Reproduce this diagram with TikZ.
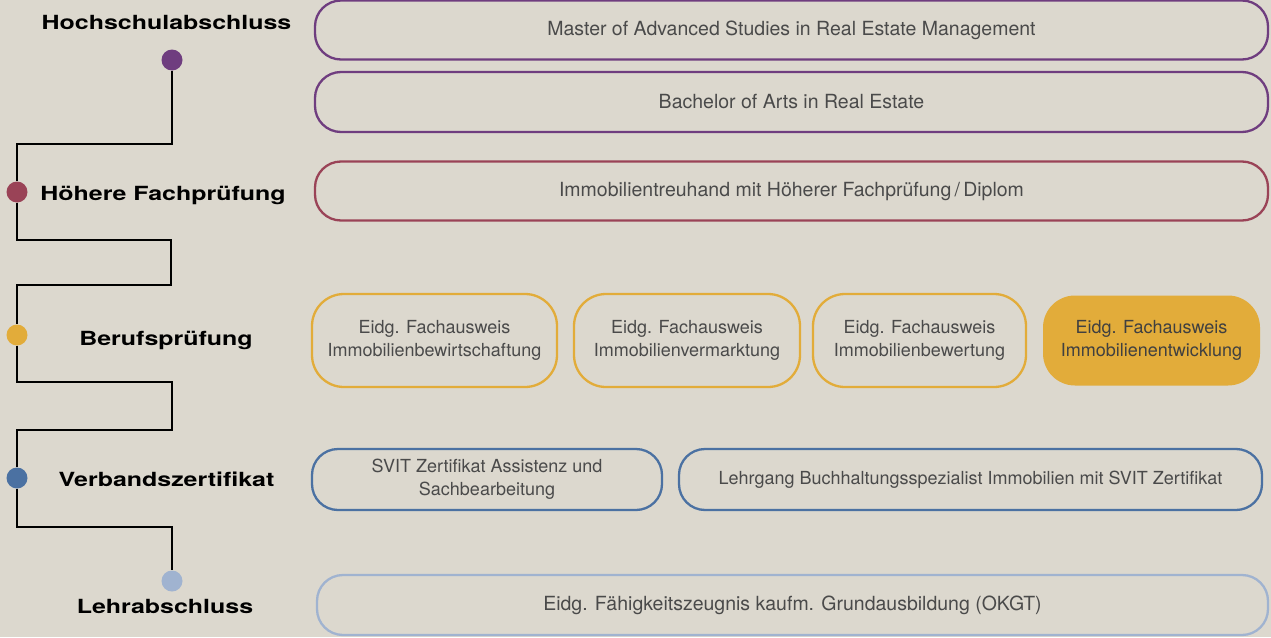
\documentclass[tikz,border=0pt]{standalone}
\usepackage{fontspec}
\setmainfont{TeX Gyre Heros}
\newfontfamily\stagefont[FakeStretch=1.28]{TeX Gyre Heros}
\usetikzlibrary{positioning}

\definecolor{paper}{HTML}{DCD8CE}
\definecolor{hsPurple}{HTML}{6F3D7F}
\definecolor{hfRed}{HTML}{9A4357}
\definecolor{bpYellow}{HTML}{E2AC3A}
\definecolor{vzBlue}{HTML}{4B71A2}
\definecolor{laBlue}{HTML}{A0B3D0}
\definecolor{boxtext}{HTML}{4A4A4A}

\tikzset{
    stagelabel/.style={anchor=base, text=black, font=\stagefont\bfseries\fontsize{19.5}{22}\selectfont},
    stagedot/.style={circle, fill, minimum size=21pt, inner sep=0pt},
    trackbox/.style={draw, rounded corners=26pt, line width=2.3pt, outer sep=0pt, align=center, inner sep=0pt,
        text=boxtext, font=\fontsize{19.5}{23}\selectfont},
    twoline/.style={trackbox, rounded corners=32pt, font=\fontsize{18}{23}\selectfont},
    timeline/.style={line width=2.4pt, black}
}

\begin{document}
\begin{tikzpicture}[x=1pt, y=-1pt]
        \fill[paper] (0,0) rectangle (1271,637);
        \useasboundingbox (0,0) rectangle (1271,637);

        % degree tracks
        \node[trackbox, draw=hsPurple, minimum width=953pt, minimum height=59pt] (master) at (791.5,30) {Master of Advanced Studies in Real Estate Management};
        \node[trackbox, draw=hsPurple, minimum width=953pt, minimum height=60pt] (bachelor) [below=12.5pt of master] {Bachelor of Arts in Real Estate};
        \node[trackbox, draw=hfRed, minimum width=953pt, minimum height=59pt] (diplom) [below=29.5pt of bachelor] {Immobilientreuhand mit Höherer Fachprüfung\,/\,Diplom};

        % federal certificates
        \node[twoline, draw=bpYellow, minimum width=245pt, minimum height=93pt] (bewirt) at (434.5,340.5) {Eidg. Fachausweis\\Immobilienbewirtschaftung};
        \node[twoline, draw=bpYellow, minimum width=226pt, minimum height=93pt] (vermarkt) [right=17pt of bewirt] {Eidg. Fachausweis\\Immobilienvermarktung};
        \node[twoline, draw=bpYellow, minimum width=213pt, minimum height=93pt] (bewert) [right=13pt of vermarkt] {Eidg. Fachausweis\\Immobilienbewertung};
        \node[twoline, draw=none, fill=bpYellow, text=black!75, minimum width=217pt, minimum height=90pt] (entw) [right=17pt of bewert] {Eidg. Fachausweis\\Immobilienentwicklung};

        % association certificates
        \node[twoline, rounded corners=26pt, draw=vzBlue, minimum width=350pt, minimum height=61pt] (assist) at (487,479.5) {SVIT Zertifikat Assistenz und\\Sachbearbeitung};
        \node[twoline, rounded corners=26pt, draw=vzBlue, minimum width=583pt, minimum height=61pt] (buchh) [right=17pt of assist] {Lehrgang Buchhaltungsspezialist Immobilien mit SVIT Zertifikat};

        % apprenticeship
        \node[trackbox, draw=laBlue, minimum width=951pt, minimum height=60pt] (efz) at (792.5,605) {Eidg. Fähigkeitszeugnis kaufm. Grundausbildung (OKGT)};

        % stage dots
        \node[stagedot, hsPurple] (hsdot) at (172,60) {};
        \node[stagedot, hfRed] (hfdot) at (17,192) {};
        \node[stagedot, bpYellow] (bpdot) at (17,335) {};
        \node[stagedot, vzBlue] (vzdot) at (17,478) {};
        \node[stagedot, laBlue] (ladot) at (172,581) {};

        % winding path between the stages (offsets from the dot centres)
        \draw[timeline] (hsdot) -- ++(0,84) -| (hfdot);
        \draw[timeline] (hfdot) -- ++(0,48) -- ++(154,0) -- ++(0,45) -| (bpdot);
        \draw[timeline] (bpdot) -- ++(0,47) -- ++(155,0) -- ++(0,48) -| (vzdot);
        \draw[timeline] (vzdot) -- ++(0,49) -| (ladot);

        % stage labels
        \node[stagelabel] (hslabel) at (166.5,29) {Hochschulabschluss};
        \node[stagelabel] (hflabel) at (163,200) {Höhere Fachprüfung};
        \node[stagelabel] (bplabel) at (166,345) {Berufsprüfung};
        \node[stagelabel] (vzlabel) at (166.5,486) {Verbandszertifikat};
        \node[stagelabel] (lalabel) at (165,613) {Lehrabschluss};
    \end{tikzpicture}
\end{document}
